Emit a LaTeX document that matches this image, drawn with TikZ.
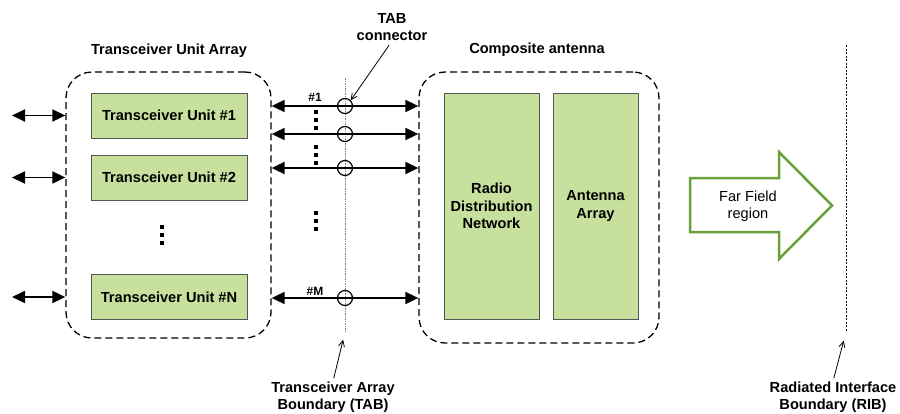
\documentclass[tikz,border=0pt]{standalone}
\usepackage{fontspec}
\setmainfont{Liberation Sans}
\usetikzlibrary{arrows.meta,positioning}
\definecolor{tugreen}{RGB}{200,224,158}
\definecolor{ffgreen}{RGB}{106,160,58}
\definecolor{boxgrey}{RGB}{85,85,85}
\newcommand{\figfont}{\fontsize{14.6}{17.5}\selectfont}
\tikzset{
  unitbox/.style={draw=boxgrey, fill=tugreen, line width=1pt, font=\figfont\bfseries, align=center, inner sep=0pt},
  groupbox/.style={draw, dash pattern=on 7pt off 4pt, line width=1.3pt, rounded corners=26pt, inner sep=0pt},
  biarrow/.style={line width=1.8pt, {Triangle[length=13pt,width=12pt]}-{Triangle[length=13pt,width=12pt]}},
  tabcirc/.style={circle, draw, line width=1.2pt, minimum size=15pt, inner sep=0pt},
  pointer/.style={line width=0.8pt, -{Straight Barb[length=6pt,width=6pt]}},
  lbl/.style={font=\figfont\bfseries, align=center, inner sep=0pt},
  numlbl/.style={font=\fontsize{12}{14}\selectfont\bfseries, inner sep=0pt},
  threedots/.pic={\foreach \d in {-8,0,8} \fill (-1.7,\d-1.7) rectangle (1.7,\d+1.7);},
}
\begin{document}
\begin{tikzpicture}[x=1pt,y=-1pt]
\useasboundingbox (0,0) rectangle (900,413);

% transceiver unit array
\node[groupbox, minimum width=205pt, minimum height=266pt] (tua) at (168.5,205) {};
\node[lbl] (tuatitle) at (169,51) {Transceiver Unit Array};
\node[unitbox, minimum width=156pt, minimum height=45pt] (tu1) at (169,115.5) {Transceiver Unit \#1};
\node[unitbox, minimum width=156pt, minimum height=45pt] (tu2) at (169,177.5) {Transceiver Unit \#2};
\node[unitbox, minimum width=156pt, minimum height=45pt] (tuN) at (169,297) {Transceiver Unit \#N};
\pic at (162,235) {threedots};

% composite antenna
\node[groupbox, minimum width=240pt, minimum height=271pt] (ca) at (539,207.5) {};
\node[lbl] (catitle) at (537,50) {Composite antenna};
\node[unitbox, minimum width=95pt, minimum height=226pt] (rdn) at (491.5,206) {Radio\\Distribution\\Network};
\node[unitbox, minimum width=85pt, minimum height=226pt] (aa) at (595.5,206) {Antenna\\Array};

% external ports
\foreach \u in {tu1,tu2,tuN}
  \draw[biarrow] (12,0 |- \u) -- (\u -| tua.west);

% TAB line and connectors
\coordinate (tabtop) at (345,78);
\coordinate (tabbot) at (345,332);
\draw[gray, line width=1pt, dash pattern=on 1.5pt off 1pt] (tabtop) -- (tabbot);
\node[tabcirc] (c1) at (345,106) {};
\node[tabcirc] (c2) at (345,134) {};
\node[tabcirc] (c3) at (345,168) {};
\node[tabcirc] (c4) at (345,298) {};
\foreach \c in {c1,c2,c3,c4}
  \draw[biarrow] (\c -| tua.east) -- (\c -| ca.west);
\node[numlbl] (p1) at (315,97) {\#1};
\node[numlbl] (pM) at (315,291) {\#M};
\pic at (316,120) {threedots};
\pic at (316,155) {threedots};
\pic at (316,221) {threedots};

\node[lbl] (tabc) at (392,27) {TAB\\connector};
\draw[pointer, shorten <=5pt] (tabc.south) -- (c1.north east);

\node[lbl] (tabl) at (333,397) {Transceiver Array\\Boundary (TAB)};
\draw[pointer, shorten <=3pt, shorten >=8pt] (tabl.north) -- (tabbot);

% far field
\draw[ffgreen, fill=white, line width=2.5pt, line join=miter]
  (690,178) -- (779,178) -- (779,152) -- (832,205.5) -- (779,259) -- (779,232) -- (690,232) -- cycle;
\node[font=\figfont, align=center] (ffl) at (748,206) {Far Field\\region};

% RIB
\coordinate (ribtop) at (846,45);
\coordinate (ribbot) at (846,332);
\draw[line width=0.8pt, dash pattern=on 2pt off 1.5pt] (ribtop) -- (ribbot);
\node[lbl] (ribl) at (833,397) {Radiated Interface\\Boundary (RIB)};
\draw[pointer, shorten <=3pt, shorten >=9pt] (ribl.north) -- (ribbot);
\end{tikzpicture}
\end{document}
